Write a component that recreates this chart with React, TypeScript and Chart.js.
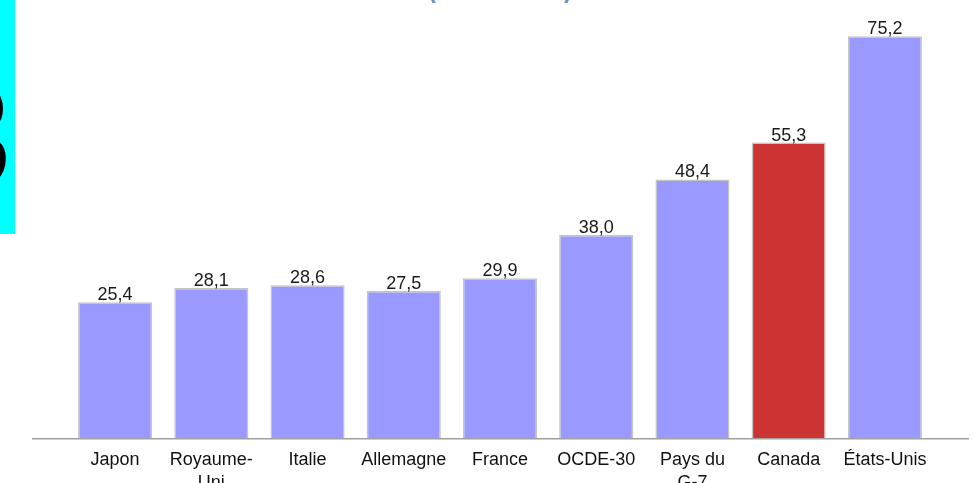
import React, { useEffect, useRef } from "react";
import { Chart, registerables } from "chart.js";

Chart.register(...registerables);

const categories: string[][] = [
  ["Japon"],
  ["Royaume-", "Uni"],
  ["Italie"],
  ["Allemagne"],
  ["France"],
  ["OCDE-30"],
  ["Pays du", "G-7"],
  ["Canada"],
  ["États-Unis"],
];
const values: number[] = [25.4, 28.1, 28.6, 27.5, 29.9, 38.0, 48.4, 55.3, 75.2];
const highlightedIndex = 7;
const titleText = "(1995 - 2005)";
const sideLabel = "3";

const FONT = '"Liberation Sans", Arial, sans-serif';
const BAR_COLOR = "#9999ff";
const HIGHLIGHT_COLOR = "#cc3333";

export default function App() {
  const canvasRef = useRef<HTMLCanvasElement | null>(null);

  useEffect(() => {
    const canvas = canvasRef.current;
    if (!canvas) return;

    const overlay = {
      id: "overlay",
      beforeDatasetsDraw(chart: any) {
        const ctx = chart.ctx;
        ctx.save();
        ctx.strokeStyle = "#a0a0a0";
        ctx.lineWidth = 1.5;
        ctx.beginPath();
        const y = chart.chartArea.bottom + 0.75;
        ctx.moveTo(32, y);
        ctx.lineTo(969, y);
        ctx.stroke();
        ctx.restore();
      },
      afterDatasetsDraw(chart: any) {
        const ctx = chart.ctx;
        const meta = chart.getDatasetMeta(0);
        ctx.save();
        ctx.font = "18px " + FONT;
        ctx.fillStyle = "#1a1a1a";
        ctx.textAlign = "center";
        ctx.textBaseline = "alphabetic";
        meta.data.forEach((bar: any, i: number) => {
          ctx.fillText(values[i].toFixed(1).replace(".", ","), bar.x, bar.y - 2);
        });
        // title, mostly cut off at the top edge
        ctx.font = "bold 24px " + FONT;
        ctx.fillStyle = "#7090c0";
        ctx.fillText(titleText, 500, -2);
        ctx.restore();
      },
    };

    const chart = new Chart(canvas, {
      type: "bar",
      data: {
        labels: categories,
        datasets: [
          {
            data: values,
            backgroundColor: values.map((_, i) => (i === highlightedIndex ? HIGHLIGHT_COLOR : BAR_COLOR)),
            borderColor: "#c4c4c4",
            borderWidth: 1.5,
            categoryPercentage: 1,
            barPercentage: 0.77,
          },
        ],
      },
      options: {
        responsive: false,
        animation: false,
        layout: { padding: { left: 67, right: 41, top: 0, bottom: 0 } },
        plugins: {
          legend: { display: false },
          tooltip: { enabled: false },
          title: { display: false },
        },
        scales: {
          x: {
            grid: { display: false, drawTicks: false },
            border: { display: false },
            ticks: {
              color: "#111111",
              padding: 11,
              maxRotation: 0,
              autoSkip: false,
              font: { family: FONT, size: 18, lineHeight: 1.25 },
            },
            afterFit: (scale: any) => {
              scale.height = 45;
            },
          },
          y: {
            display: false,
            min: 0,
            max: 82,
          },
        },
      },
      plugins: [overlay],
    });

    return () => chart.destroy();
  }, []);

  return (
    <div
      style={{
        position: "fixed",
        left: 0,
        top: 0,
        width: 974,
        height: 483,
        background: "#ffffff",
        overflow: "hidden",
      }}
    >
      <canvas ref={canvasRef} width={974} height={483} style={{ position: "absolute", left: 0, top: 0 }} />
      <div
        style={{
          position: "absolute",
          left: 0,
          top: 0,
          width: 15,
          height: 234,
          background: "#00ffff",
          overflow: "hidden",
        }}
      >
        <span
          style={{
            position: "absolute",
            left: -71,
            top: 60,
            fontFamily: FONT,
            fontSize: 150,
            lineHeight: 1,
            color: "#000000",
          }}
        >
          {sideLabel}
        </span>
      </div>
    </div>
  );
}
